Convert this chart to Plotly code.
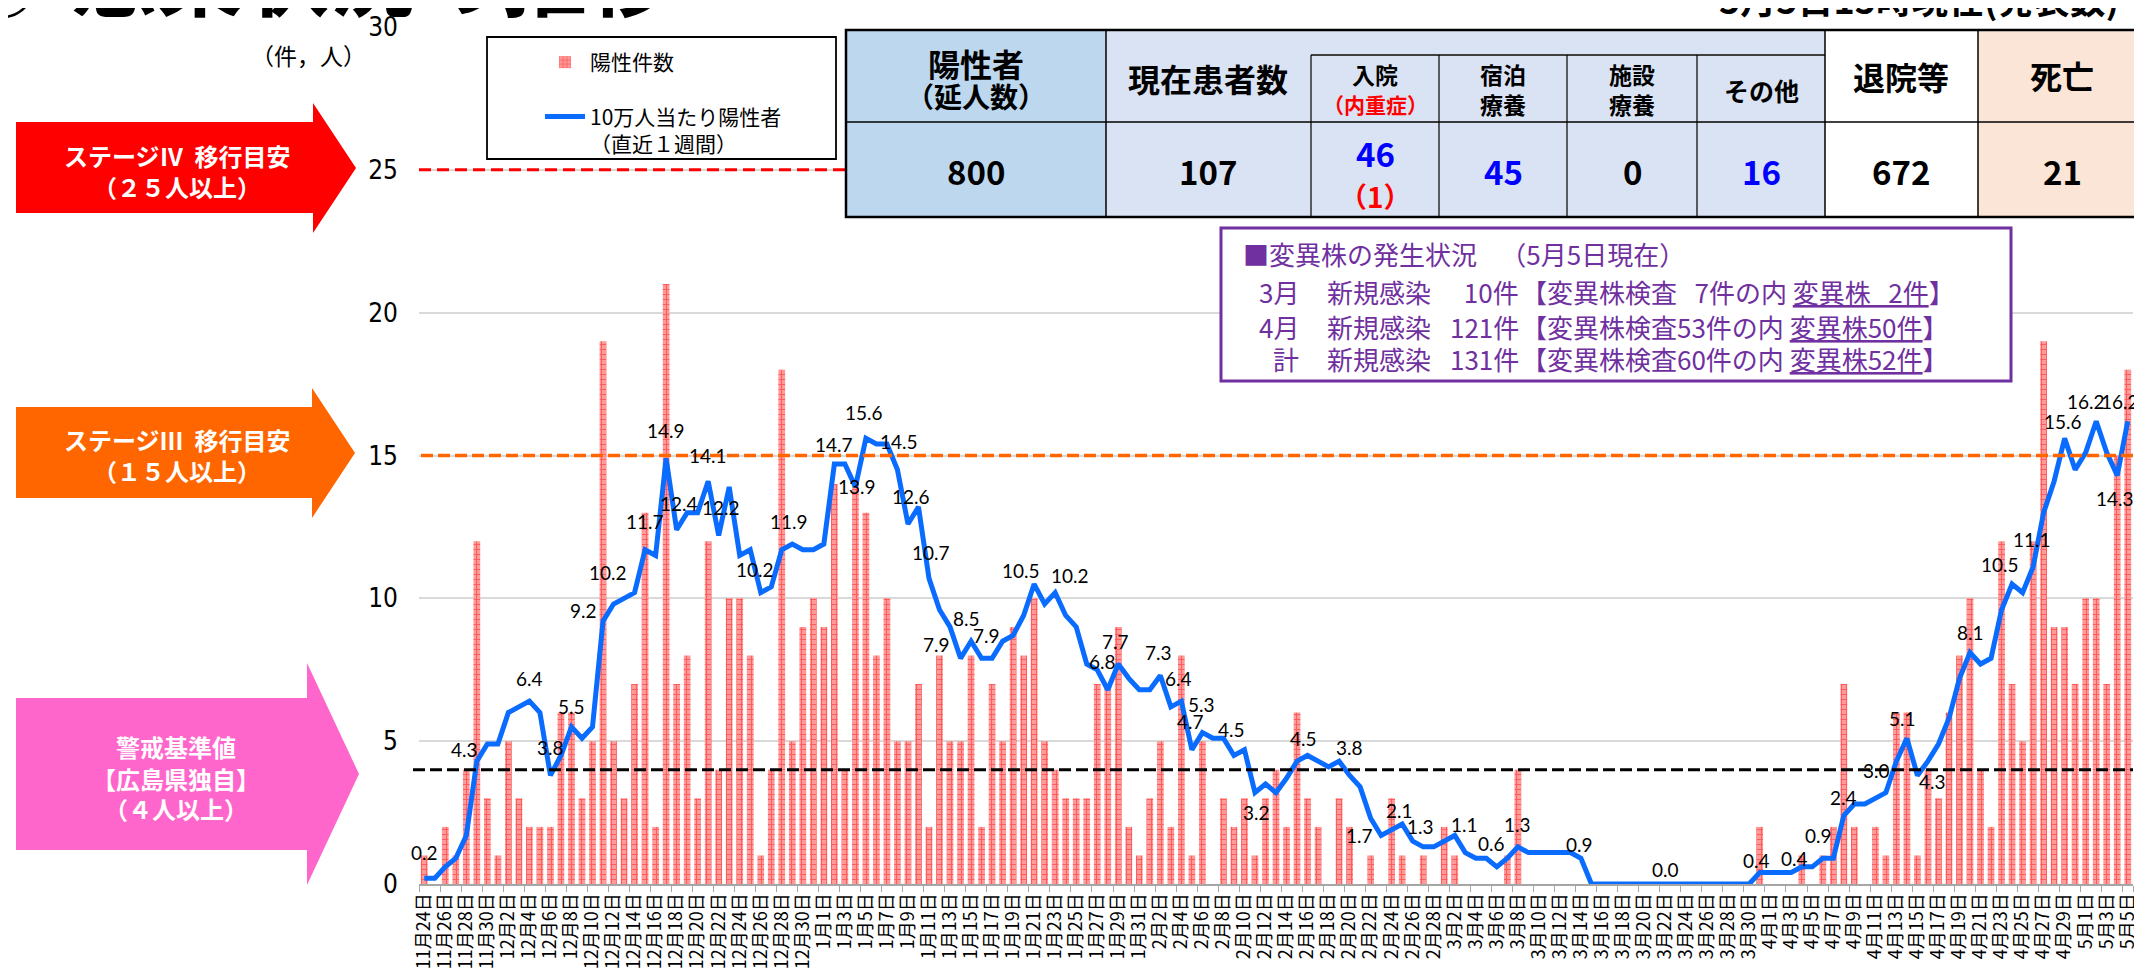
import plotly.graph_objects as go

# ---------------- data ----------------
months = [(11, 24, 30), (12, 1, 31), (1, 1, 31), (2, 1, 28), (3, 1, 31), (4, 1, 30), (5, 1, 5)]
dates = [f"{m}月{d}日" for m, a, b in months for d in range(a, b + 1)]

cases = [1, 0, 2, 1, 4, 12, 3,
         1, 5, 3, 2, 2, 2, 6,
         6, 3, 5, 19, 5, 3, 7,
         13, 2, 21, 7, 8, 3, 12,
         4, 10, 10, 8, 1, 4, 18,
         5, 9, 10, 9, 14, 4, 14,
         13, 8, 10, 5, 5, 7, 2,
         8, 5, 5, 8, 2, 7, 5,
         9, 8, 10, 5, 4, 3, 3,
         3, 7, 7, 9, 2, 1, 3,
         5, 2, 8, 1, 5, 0, 3,
         2, 3, 1, 3, 4, 2, 6,
         3, 2, 0, 3, 2, 0, 1,
         0, 3, 1, 0, 1, 0, 2,
         1, 0, 0, 0, 0, 1, 4,
         0, 0, 0, 0, 0, 0, 0,
         0, 0, 0, 0, 0, 0, 0,
         0, 0, 0, 0, 0, 0, 0,
         0, 2, 0, 0, 0, 1, 0,
         1, 2, 7, 2, 0, 2, 1,
         6, 6, 1, 4, 3, 6, 8,
         10, 4, 2, 12, 7, 5, 12,
         19, 9, 9, 7, 10, 10, 7,
         15, 18]

rate = [0.2, 0.2, 0.6, 0.9, 1.7, 4.3, 4.9,
        4.9, 6.0, 6.2, 6.4, 6.0, 3.8, 4.5,
        5.5, 5.1, 5.5, 9.2, 9.8, 10.0, 10.2,
        11.7, 11.5, 14.9, 12.4, 13.0, 13.0, 14.1,
        12.2, 13.9, 11.5, 11.7, 10.2, 10.4, 11.7,
        11.9, 11.7, 11.7, 11.9, 14.7, 14.7, 13.9,
        15.6, 15.4, 15.4, 14.5, 12.6, 13.2, 10.7,
        9.6, 9.0, 7.9, 8.5, 7.9, 7.9, 8.5,
        8.7, 9.4, 10.5, 9.8, 10.2, 9.4, 9.0,
        7.7, 7.5, 6.8, 7.7, 7.2, 6.8, 6.8,
        7.3, 6.2, 6.4, 4.7, 5.3, 5.1, 5.1,
        4.5, 4.7, 3.2, 3.5, 3.2, 3.7, 4.3,
        4.5, 4.3, 4.1, 4.3, 3.8, 3.4, 2.3,
        1.7, 1.9, 2.1, 1.5, 1.3, 1.3, 1.5,
        1.7, 1.1, 0.9, 0.9, 0.6, 0.9, 1.3,
        1.1, 1.1, 1.1, 1.1, 1.1, 0.9, 0.0,
        0.0, 0.0, 0.0, 0.0, 0.0, 0.0, 0.0,
        0.0, 0.0, 0.0, 0.0, 0.0, 0.0, 0.0,
        0.0, 0.4, 0.4, 0.4, 0.4, 0.6, 0.6,
        0.9, 0.9, 2.4, 2.8, 2.8, 3.0, 3.2,
        4.3, 5.1, 3.8, 4.3, 4.9, 5.8, 7.2,
        8.1, 7.7, 7.9, 9.6, 10.5, 10.2, 11.1,
        13.0, 14.1, 15.6, 14.5, 15.1, 16.2, 15.1,
        14.3, 16.2]

labeled_days = [0, 5, 10, 12, 14, 17, 20, 21, 23, 24, 27, 28, 32, 35, 39, 41, 42, 45, 46, 48,
                51, 52, 53, 58, 60, 65, 66, 70, 72, 73, 74, 77, 79, 84, 88, 91, 93, 95, 99,
                102, 104, 110, 118, 127, 130, 133, 135, 138, 141, 143, 147, 151, 153, 156,
                159, 161, 162]

thresholds = {"stage4": 25, "stage3": 15, "alert": 4}

table_header = ["陽性者<br>（延人数）", "現在患者数", "入院", "宿泊<br>療養", "施設<br>療養", "その他", "退院等", "死亡"]
table_values = ["800", "107", "46", "45", "0", "16", "672", "21"]
severe_value = "（1）"

variant_rows = [("3月", "新規感染", "\u00a010件", "【変異株検査\u00a0\u00a0\u00a07件の内 ", "変異株\u00a0\u00a0\u00a02件", "】"),
                ("4月", "新規感染", "121件", "【変異株検査53件の内 ", "変異株50件", "】"),
                ("計", "新規感染", "131件", "【変異株検査60件の内 ", "変異株52件", "】")]

# ---------------- layout helpers ----------------
W, H = 2142, 972
L, R, T, B = 411, 2125, 19, 876
JP = "Noto Sans CJK JP"


def xp(X):
    return (X - L) / (R - L)


def yp(Y):
    return (B - Y) / (B - T)


fig = go.Figure()
fig.add_bar(x=dates, y=cases, name="陽性件数", legendgroup="a",
            marker=dict(color="#FF9494", line=dict(width=0),
                        pattern=dict(shape="+", fgcolor="#FF1A1A", bgcolor="#FF9A9A",
                                     size=5, solidity=0.35)))
fig.add_scatter(x=dates, y=rate, mode="lines", name="10万人当たり陽性者<br>（直近１週間）",
                legendgroup="b", line=dict(color="#0A6CFF", width=5))

# data labels
label_shift = {0: (0, 26), 5: (-12, 12), 10: (0, 23), 12: (0, 28), 14: (0, 20), 17: (-20, 11),
               20: (-27, 20), 21: (0, 28), 23: (0, 28), 24: (2, 26), 27: (0, 26), 28: (2, 28),
               32: (-6, 23), 35: (-3, 23), 39: (0, 20), 41: (2, 0), 42: (-2, 26), 45: (2, 28),
               46: (3, 28), 48: (2, 26), 51: (-24, 14), 52: (-5, 23), 53: (5, 23), 58: (-13, 14),
               60: (15, 17), 65: (-5, 28), 66: (-3, 23), 70: (-2, 23), 72: (-3, 23), 73: (-1, 28),
               74: (-1, 28), 77: (-2, 26), 79: (2, -20), 84: (-4, 17), 88: (0, 28), 91: (-22, 0),
               93: (-3, 14), 95: (-3, 20), 99: (-1, 28), 102: (-5, 23), 104: (0, 22), 110: (-1, 14),
               118: (0, 15), 127: (-3, 12), 130: (3, 14), 133: (-4, 23), 135: (0, 18), 138: (1, 28),
               141: (-4, 20), 143: (5, -20), 147: (0, 20), 151: (-12, 20), 153: (-1, 27),
               156: (-2, 17), 159: (-10, 20), 161: (-2, -23), 162: (-8, 20)}
for i in labeled_days:
    dx, dy = label_shift.get(i, (0, 24))
    fig.add_annotation(x=dates[i], y=rate[i], text=f"{rate[i]:.1f}", showarrow=False,
                       xshift=dx, yshift=dy, font=dict(family="Lato", size=19, color="black"))

shapes = []
# threshold lines
shapes.append(dict(type="line", xref="paper", yref="y", x0=0, x1=1, y0=thresholds["stage4"],
                   y1=thresholds["stage4"], line=dict(color="#FF0000", width=3, dash="12px,6px"),
                   layer="above"))
shapes.append(dict(type="line", xref="paper", yref="y", x0=xp(413), x1=1, y0=thresholds["stage3"],
                   y1=thresholds["stage3"], line=dict(color="#FF6600", width=3.5, dash="12px,5px"),
                   layer="above"))
shapes.append(dict(type="line", xref="paper", yref="y", x0=xp(405), x1=1, y0=thresholds["alert"],
                   y1=thresholds["alert"], line=dict(color="#000000", width=3, dash="12px,5px"),
                   layer="above"))


def rect(x0, y0, x1, y1, fill=None, lc=None, lw=0):
    d = dict(type="rect", xref="paper", yref="paper", x0=xp(x0), x1=xp(x1), y0=yp(y1), y1=yp(y0),
             layer="above", line=dict(width=lw, color=lc or "rgba(0,0,0,0)"))
    d["fillcolor"] = fill if fill else "rgba(0,0,0,0)"
    return d


def seg(x0, y0, x1, y1, color="black", width=1.5):
    return dict(type="line", xref="paper", yref="paper", x0=xp(x0), x1=xp(x1), y0=yp(y0), y1=yp(y1),
                layer="above", line=dict(color=color, width=width))


# legend box
shapes.append(rect(479, 29, 828, 151, fill="white", lc="black", lw=1.8))

# table
cx = [838, 1098, 1303, 1431, 1559, 1689, 1817, 1970, 2139]
TT, TS, TM, TB = 22, 47, 114, 209
shapes.append(rect(cx[0], TT, cx[1], TB, fill="#BDD7EE"))
shapes.append(rect(cx[1], TT, cx[6], TB, fill="#DAE3F3"))
shapes.append(rect(cx[6], TT, cx[7], TB, fill="#FFFFFF"))
shapes.append(rect(cx[7], TT, cx[8], TB, fill="#FBE5D6"))
shapes.append(seg(cx[0], TM, cx[8], TM, width=1.5))
shapes.append(seg(cx[2], TS, cx[6], TS, color="#404040", width=2))
for k in (1, 6, 7):
    shapes.append(seg(cx[k], TT, cx[k], TB, width=1.5))
for k in (2, 3, 4, 5):
    shapes.append(seg(cx[k], TS, cx[k], TB, width=1.2))
shapes.append(rect(cx[0], TT, cx[8], TB, lc="black", lw=2.5))

# variant box
shapes.append(rect(1213, 220, 2003, 373, fill="white", lc="#7030A0", lw=3))


# arrows
def arrow(x0, x1, yb0, yb1, yh0, yh1, tip, color):
    ym = (yh0 + yh1) / 2
    pts = [(x0, yb0), (x1, yb0), (x1, yh0), (tip, ym), (x1, yh1), (x1, yb1), (x0, yb1)]
    path = "M" + " L".join(f"{xp(a):.5f},{yp(b):.5f}" for a, b in pts) + " Z"
    return dict(type="path", xref="paper", yref="paper", path=path, fillcolor=color,
                line=dict(width=0), layer="above")


shapes.append(arrow(8, 305, 114, 205, 95, 225, 348, "#FF0000"))
shapes.append(arrow(8, 304, 399, 490, 380, 510, 347, "#FF6600"))
shapes.append(arrow(8, 299, 690, 842, 655, 877, 351, "#FF66CC"))


def ann(X, Y, text, size, color="black", bold=False, xanchor="center", yanchor="middle",
        family=JP):
    fig.add_annotation(xref="paper", yref="paper", x=xp(X), y=yp(Y), text=text, showarrow=False,
                       xanchor=xanchor, yanchor=yanchor, borderpad=0,
                       font=dict(family=family, size=size, color=color,
                                 weight="bold" if bold else "normal"))


# arrow texts
ann(169, 148, "ステージⅣ\u00a0\u00a0移行目安", 24, "white", True)
ann(169, 178, "（２５人以上）", 24, "white", True)
ann(169, 432, "ステージⅢ\u00a0\u00a0移行目安", 24, "white", True)
ann(169, 463, "（１５人以上）", 24, "white", True)
ann(168, 738, "警戒基準値", 24, "white", True)
ann(168, 770, "【広島県独自】", 24, "white", True)
ann(168, 800, "（４人以上）", 24, "white", True)

# unit label
ann(300, 47, "（件，人）", 23)

# cut-off title and timestamp at the very top
ann(30, 25, "②", 70, bold=True, xanchor="right", yanchor="bottom")
ann(62, 28, "感染状況の推移", 86, bold=True, xanchor="left", yanchor="bottom")
ann(2112, 17, "5月5日15時現在(発表数)", 36, bold=True, xanchor="right", yanchor="bottom")

# table texts
ann(968, 55, "陽性者", 32, bold=True)
ann(968, 88, "（延人数）", 28, bold=True)
ann(1200, 70, table_header[1], 32, bold=True)
ann(1367, 66, table_header[2], 23, bold=True)
ann(1367, 96, "（内重症）", 21, "#FF0000", bold=True)
ann(1495, 81, table_header[3], 23, bold=True)
ann(1624, 81, table_header[4], 23, bold=True)
ann(1753, 82, table_header[5], 25, bold=True)
ann(1893, 68, table_header[6], 32, bold=True)
ann(2054, 67, table_header[7], 32, bold=True)

val_x = [968, 1200, 1367, 1495, 1624, 1753, 1893, 2054]
val_color = ["black", "black", "#0000FF", "#0000FF", "black", "#0000FF", "black", "black"]
for k, v in enumerate(table_values):
    y = 145 if k == 2 else 163
    ann(val_x[k], y, v, 33, val_color[k], True)
ann(1367, 188, severe_value, 28, "#FF0000", True)

# variant box texts
PUR = "#7030A0"
ann(1234, 245, "■変異株の発生状況\u00a0\u00a0\u00a0\u00a0（5月5日現在）", 26, PUR, xanchor="left")
for r, yy in zip(variant_rows, (283, 318, 350)):
    ann(1292, yy, r[0], 26, PUR, xanchor="right")
    ann(1318, yy, r[1], 26, PUR, xanchor="left")
    ann(1512, yy, r[2], 26, PUR, xanchor="right")
    ann(1512, yy, r[3] + "<u>" + r[4] + "</u>" + r[5], 26, PUR, xanchor="left")

fig.update_layout(
    width=W, height=H,
    margin=dict(l=L, r=W - R, t=T, b=H - B, autoexpand=False),
    plot_bgcolor="white", paper_bgcolor="white",
    bargap=0.36,
    shapes=shapes,
    showlegend=True,
    legend=dict(x=xp(532), y=yp(34), xanchor="left", yanchor="top", bgcolor="rgba(0,0,0,0)",
                borderwidth=0, font=dict(family=JP, size=21, color="black"),
                tracegroupgap=24, valign="top", traceorder="grouped", itemwidth=40),
)
fig.update_xaxes(type="category", range=[-0.5, len(dates) - 0.5], tickmode="array",
                 tickvals=dates[::2], ticktext=dates[::2], tickangle=-90, tickson="boundaries",
                 ticks="outside", ticklen=6, tickcolor="#A6A6A6", showline=True,
                 linecolor="#A6A6A6", linewidth=2, showgrid=False, automargin=False,
                 tickfont=dict(family=JP, size=18, color="black"))
fig.update_yaxes(range=[0, 30], tickmode="array", tickvals=[0, 5, 10, 15, 20, 25, 30],
                 showgrid=True, gridcolor="#D9D9D9", gridwidth=1.5, zeroline=False,
                 showline=False, ticks="", ticklabelstandoff=20, automargin=False,
                 tickfont=dict(family="Liberation Sans Narrow, DejaVu Sans Condensed, Liberation Sans",
                               size=26, color="black"))

fig.write_html("out.html")
